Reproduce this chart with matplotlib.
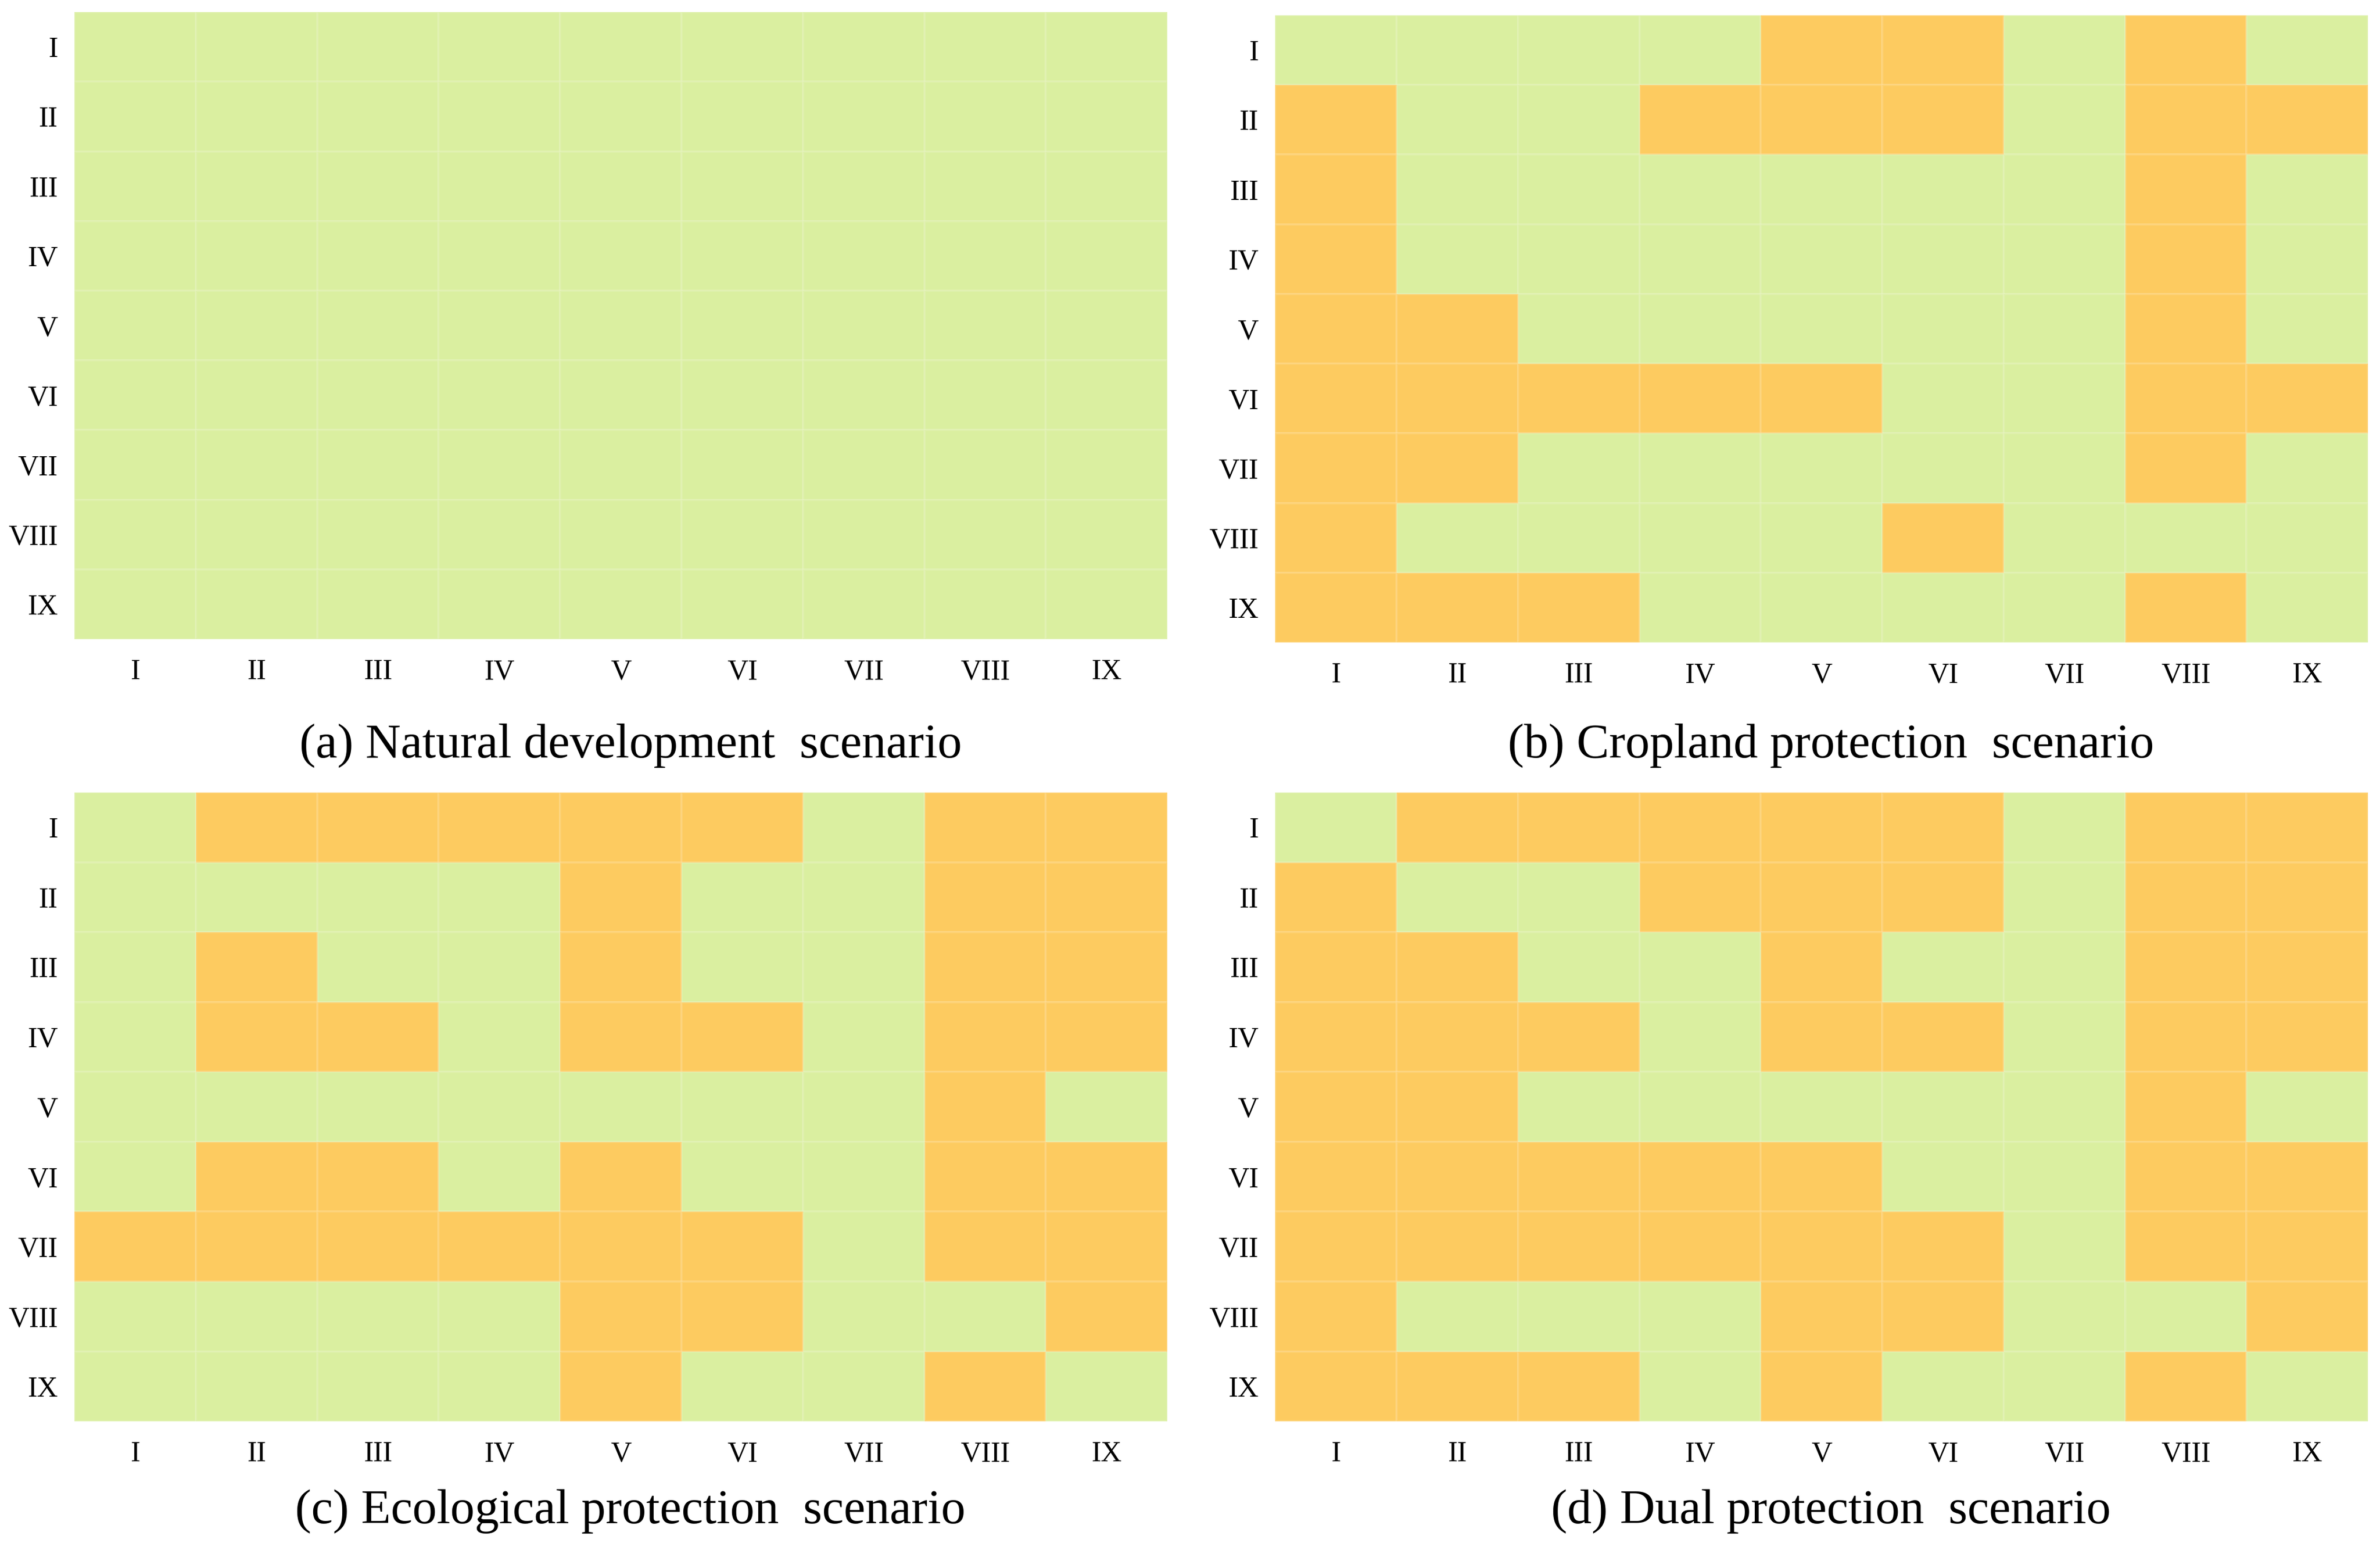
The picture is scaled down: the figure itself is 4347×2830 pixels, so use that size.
import matplotlib.pyplot as plt
import numpy as np
from matplotlib.colors import ListedColormap

plt.rcParams['font.family'] = ['Liberation Serif', 'DejaVu Serif']

zones = ['I', 'II', 'III', 'IV', 'V', 'VI', 'VII', 'VIII', 'IX']

titles = ['(a) Natural development  scenario',
          '(b) Cropland protection  scenario',
          '(c) Ecological protection  scenario',
          '(d) Dual protection  scenario']

# 0 = no conflict (green), 1 = conflict (orange); rows I..IX top to bottom
natural = [
    [0, 0, 0, 0, 0, 0, 0, 0, 0],
    [0, 0, 0, 0, 0, 0, 0, 0, 0],
    [0, 0, 0, 0, 0, 0, 0, 0, 0],
    [0, 0, 0, 0, 0, 0, 0, 0, 0],
    [0, 0, 0, 0, 0, 0, 0, 0, 0],
    [0, 0, 0, 0, 0, 0, 0, 0, 0],
    [0, 0, 0, 0, 0, 0, 0, 0, 0],
    [0, 0, 0, 0, 0, 0, 0, 0, 0],
    [0, 0, 0, 0, 0, 0, 0, 0, 0],
]
cropland = [
    [0, 0, 0, 0, 1, 1, 0, 1, 0],
    [1, 0, 0, 1, 1, 1, 0, 1, 1],
    [1, 0, 0, 0, 0, 0, 0, 1, 0],
    [1, 0, 0, 0, 0, 0, 0, 1, 0],
    [1, 1, 0, 0, 0, 0, 0, 1, 0],
    [1, 1, 1, 1, 1, 0, 0, 1, 1],
    [1, 1, 0, 0, 0, 0, 0, 1, 0],
    [1, 0, 0, 0, 0, 1, 0, 0, 0],
    [1, 1, 1, 0, 0, 0, 0, 1, 0],
]
ecological = [
    [0, 1, 1, 1, 1, 1, 0, 1, 1],
    [0, 0, 0, 0, 1, 0, 0, 1, 1],
    [0, 1, 0, 0, 1, 0, 0, 1, 1],
    [0, 1, 1, 0, 1, 1, 0, 1, 1],
    [0, 0, 0, 0, 0, 0, 0, 1, 0],
    [0, 1, 1, 0, 1, 0, 0, 1, 1],
    [1, 1, 1, 1, 1, 1, 0, 1, 1],
    [0, 0, 0, 0, 1, 1, 0, 0, 1],
    [0, 0, 0, 0, 1, 0, 0, 1, 0],
]
dual = [
    [0, 1, 1, 1, 1, 1, 0, 1, 1],
    [1, 0, 0, 1, 1, 1, 0, 1, 1],
    [1, 1, 0, 0, 1, 0, 0, 1, 1],
    [1, 1, 1, 0, 1, 1, 0, 1, 1],
    [1, 1, 0, 0, 0, 0, 0, 1, 0],
    [1, 1, 1, 1, 1, 0, 0, 1, 1],
    [1, 1, 1, 1, 1, 1, 0, 1, 1],
    [1, 0, 0, 0, 1, 1, 0, 0, 1],
    [1, 1, 1, 0, 1, 0, 0, 1, 0],
]

cmap = ListedColormap(['#daefa0', '#fdcb60'])

fig = plt.figure(figsize=(43.47, 28.30), dpi=100)

# axes rectangles [left, bottom, width, height] in figure fractions
boxes = [[0.0313, 0.5876, 0.4592, 0.4046],
         [0.5358, 0.5855, 0.4592, 0.4046],
         [0.0313, 0.0830, 0.4592, 0.4057],
         [0.5358, 0.0830, 0.4592, 0.4057]]
title_y = [0.519, 0.519, 0.025, 0.025]

for grid, title, box, ty in zip([natural, cropland, ecological, dual], titles, boxes, title_y):
    ax = fig.add_axes(box)
    ax.pcolormesh(np.array(grid), cmap=cmap, vmin=0, vmax=1,
                  edgecolors=(1, 1, 1, 0.12), linewidth=1.5)
    ax.set_xlim(0, 9)
    ax.set_ylim(9, 0)
    ax.set_xticks(np.arange(9) + 0.5)
    ax.set_yticks(np.arange(9) + 0.5)
    ax.set_xticklabels(zones, fontsize=38)
    ax.set_yticklabels(zones, fontsize=38)
    ax.tick_params(length=0, pad=26)
    ax.tick_params(axis='y', pad=22)
    for spine in ax.spines.values():
        spine.set_visible(False)
    fig.text(box[0] + box[2] / 2 + 0.004, ty, title, fontsize=64,
             ha='center', va='center')

fig.savefig('out.png', dpi=100, facecolor='white')
